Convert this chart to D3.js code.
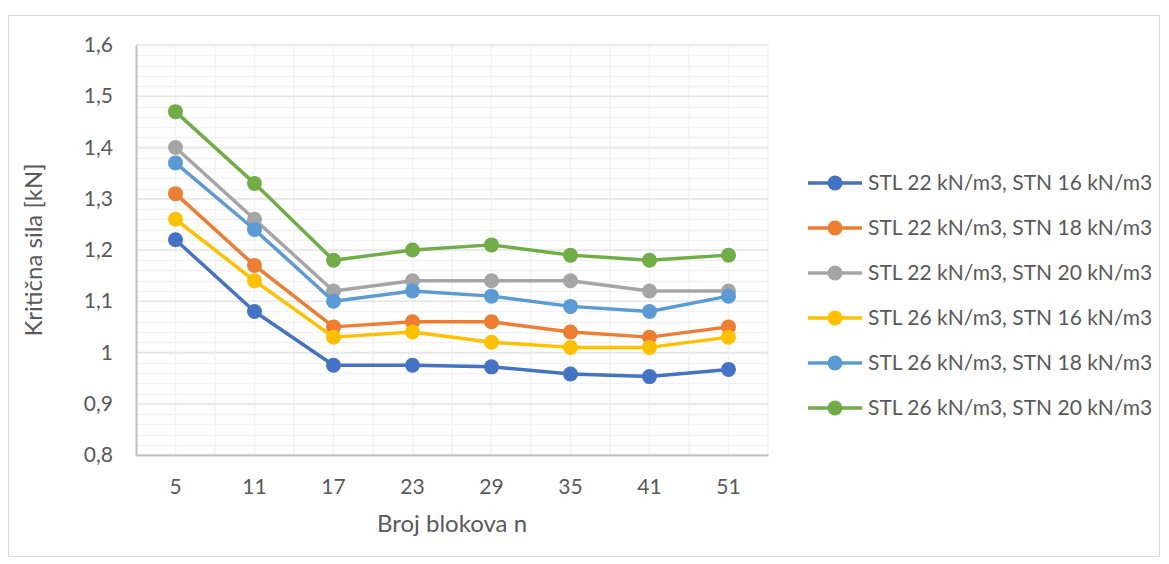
<!DOCTYPE html>
<meta charset="utf-8">
<html>
<script src="https://d3js.org/d3.v7.min.js"></script>
<style>
  body { margin: 0; background: #fff; }
  text { font-family: Lato, "Open Sans", sans-serif; fill: #595959; }
</style>
<div id="chart"></div>
<script>

// data
var categories = ["5", "11", "17", "23", "29", "35", "41", "51"];
var seriesNames = [
  "STL 22 kN/m3, STN 16 kN/m3",
  "STL 22 kN/m3, STN 18 kN/m3",
  "STL 22 kN/m3, STN 20 kN/m3",
  "STL 26 kN/m3, STN 16 kN/m3",
  "STL 26 kN/m3, STN 18 kN/m3",
  "STL 26 kN/m3, STN 20 kN/m3"
];
var s1 = [1.22, 1.08, 0.975, 0.975, 0.972, 0.958, 0.953, 0.967];
var s2 = [1.31, 1.17, 1.05, 1.06, 1.06, 1.04, 1.03, 1.05];
var s3 = [1.40, 1.26, 1.12, 1.14, 1.14, 1.14, 1.12, 1.12];
var s4 = [1.26, 1.14, 1.03, 1.04, 1.02, 1.01, 1.01, 1.03];
var s5 = [1.37, 1.24, 1.10, 1.12, 1.11, 1.09, 1.08, 1.11];
var s6 = [1.47, 1.33, 1.18, 1.20, 1.21, 1.19, 1.18, 1.19];
var yTicks = [0.8, 0.9, 1.0, 1.1, 1.2, 1.3, 1.4, 1.5, 1.6];
var colors = ["#4472C4", "#ED7D31", "#A5A5A5", "#FFC000", "#5B9BD5", "#70AD47"];

var allSeries = [s1, s2, s3, s4, s5, s6];

var width = 1169,
    height = 564;
var plot = {left: 136, right: 768, top: 45, bottom: 455};

var svg = d3.select("#chart")
  .append("svg")
    .attr("width", width)
    .attr("height", height);

// chart border
svg.append("rect")
  .attr("x", 8.5).attr("y", 15.5)
  .attr("width", 1151).attr("height", 541)
  .attr("fill", "none")
  .attr("stroke", "#d9d9d9");

var x = d3.scaleBand()
  .domain(categories)
  .range([plot.left, plot.right]);

var y = d3.scaleLinear()
  .domain([0.8, 1.6])
  .range([plot.bottom, plot.top]);

var grid = svg.append("g");

// minor horizontal gridlines (every 0.02)
var minor = d3.range(0, 41).map(function(i) { return 0.8 + i * 0.02; });
grid.selectAll("line.hminor")
  .data(minor)
  .enter().append("line")
    .attr("x1", plot.left).attr("x2", plot.right)
    .attr("y1", function(d) { return Math.round(y(d)) + 0.5; })
    .attr("y2", function(d) { return Math.round(y(d)) + 0.5; })
    .attr("stroke", "#f2f2f2")
    .attr("stroke-width", 1.5);

// vertical gridlines at category edges and centres
var vlines = [];
categories.forEach(function(c, i) {
  vlines.push(x(c) + x.bandwidth() / 2);
  if (i > 0) vlines.push(x(c));
});
vlines.push(plot.right);
grid.selectAll("line.v")
  .data(vlines)
  .enter().append("line")
    .attr("x1", function(d) { return d; })
    .attr("x2", function(d) { return d; })
    .attr("y1", plot.top).attr("y2", plot.bottom)
    .attr("stroke", "#f2f2f2")
    .attr("stroke-width", 1.5);

// major gridlines
grid.selectAll("line.hmajor")
  .data(yTicks)
  .enter().append("line")
    .attr("x1", plot.left).attr("x2", plot.right)
    .attr("y1", function(d) { return y(d); })
    .attr("y2", function(d) { return y(d); })
    .attr("stroke", "#e6e6e6")
    .attr("stroke-width", 1.5);

// axes
var yAxis = svg.append("g")
  .attr("transform", "translate(" + plot.left + ",0)")
  .call(d3.axisLeft(y).tickValues(yTicks).tickSize(0).tickPadding(23)
    .tickFormat(function(d) { return d3.format(".1~f")(d).replace(".", ","); }));
yAxis.select(".domain").attr("stroke", "#bfbfbf").attr("stroke-width", 2);
yAxis.selectAll("text").style("font-size", "21px").attr("fill", "#595959");

var xAxis = svg.append("g")
  .attr("transform", "translate(0," + plot.bottom + ")")
  .call(d3.axisBottom(x).tickSize(0).tickPadding(24));
xAxis.select(".domain").attr("stroke", "#bfbfbf").attr("stroke-width", 2);
xAxis.selectAll("text").style("font-size", "21px").attr("fill", "#595959");

// axis titles
svg.append("text")
  .attr("transform", "translate(42," + (plot.top + plot.bottom) / 2 + ") rotate(-90)")
  .attr("text-anchor", "middle")
  .style("font-size", "24px")
  .text("Kritična sila [kN]");

svg.append("text")
  .attr("x", (plot.left + plot.right) / 2)
  .attr("y", 532)
  .attr("text-anchor", "middle")
  .style("font-size", "24px")
  .text("Broj blokova n");

// lines and markers
var line = d3.line()
  .x(function(d, i) { return x(categories[i]) + x.bandwidth() / 2; })
  .y(function(d) { return y(d); });

allSeries.forEach(function(s, k) {
  var g = svg.append("g");
  g.append("path")
    .datum(s)
    .attr("d", line)
    .attr("fill", "none")
    .attr("stroke", colors[k])
    .attr("stroke-width", 3.5)
    .attr("stroke-linejoin", "round");
  g.selectAll("circle")
    .data(s)
    .enter().append("circle")
      .attr("cx", function(d, i) { return x(categories[i]) + x.bandwidth() / 2; })
      .attr("cy", function(d) { return y(d); })
      .attr("r", 7.5)
      .attr("fill", colors[k]);
});

// legend
var legend = svg.selectAll(".legend")
  .data(seriesNames)
  .enter().append("g")
    .attr("class", "legend")
    .attr("transform", function(d, i) { return "translate(808," + (183 + i * 45) + ")"; });

legend.append("line")
  .attr("x1", 0).attr("x2", 54)
  .attr("stroke", function(d, i) { return colors[i]; })
  .attr("stroke-width", 3.5);
legend.append("circle")
  .attr("cx", 27).attr("r", 7.5)
  .attr("fill", function(d, i) { return colors[i]; });
legend.append("text")
  .attr("x", 60)
  .attr("dy", "0.35em")
  .style("font-size", "21px")
  .text(function(d) { return d; });
</script>
</html>
